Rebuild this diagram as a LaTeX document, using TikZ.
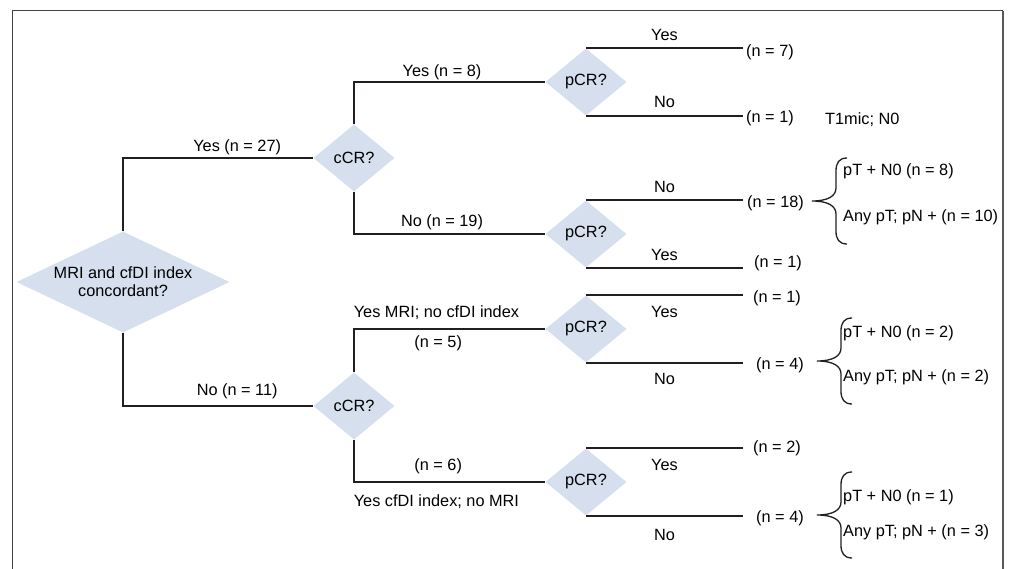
\documentclass[tikz,border=0pt]{standalone}
\usepackage{fontspec}
\setmainfont{Liberation Sans}
\usepackage{tikz}
\usetikzlibrary{shapes.geometric}
\definecolor{boxblue}{RGB}{213,223,237}
\definecolor{inkgray}{RGB}{35,31,32}

\begin{document}
\begin{tikzpicture}[x=1pt,y=-1pt,
  every node/.style={font=\fontsize{16.3}{18}\selectfont, text=black},
  question/.style={diamond, fill=boxblue, inner sep=0pt, minimum width=81pt, minimum height=67pt},
  lbl/.style={inner sep=0pt, text height=11.5pt, text depth=3.4pt},
  outcome/.style={lbl, anchor=west},
  branch/.style={line width=1.7pt, draw=inkgray}]
\useasboundingbox (0,0) rectangle (1013,569);
% Rahmen
\draw[line width=1pt, draw=inkgray!85] (12,569) -- (12,11) -- (1003,11);
\draw[line width=1.6pt, draw=inkgray!75] (1003,11) -- (1003,569);
% Fragen
\node[question, minimum width=213pt, minimum height=101pt, aspect=2.1, align=center] (root) at (123,282) {MRI and cfDI index\\concordant?};
\node[question] (ccrA) at (354,158) {cCR?};
\node[question] (ccrB) at (354,406) {cCR?};
\node[question] (pcrA) at (586,82) {pCR?};
\node[question] (pcrB) at (586,234) {pCR?};
\node[question] (pcrC) at (586,329) {pCR?};
\node[question] (pcrD) at (586,482) {pCR?};
\coordinate (endx) at (743,0);
% Ergebnisse
\node[outcome] (oA1) at (746,52) {(n = 7)};
\node[outcome] (oA2) at (746,118) {(n = 1)};
\node[outcome] (tmic) at (825,120) {T1mic; N0};
\node[outcome] (oB1) at (747,203) {(n = 18)};
\node[outcome] (oB2) at (754,263) {(n = 1)};
\node[outcome] (oC1) at (753,298) {(n = 1)};
\node[outcome] (oC2) at (756,365) {(n = 4)};
\node[outcome] (oD1) at (753,448) {(n = 2)};
\node[outcome] (oD2) at (756,518) {(n = 4)};
\node[outcome] (bB1) at (843,171) {pT + N0 (n = 8)};
\node[outcome] (bB2) at (843,217) {Any pT; pN + (n = 10)};
\node[outcome] (bC1) at (843,333) {pT + N0 (n = 2)};
\node[outcome] (bC2) at (843,377) {Any pT; pN + (n = 2)};
\node[outcome] (bD1) at (843,497) {pT + N0 (n = 1)};
\node[outcome] (bD2) at (843,532) {Any pT; pN + (n = 3)};
% Verbindungen
\draw[branch] (root.north) |- (ccrA.west) node[pos=0.8,above=2.5pt,lbl] {Yes (n = 27)};
\draw[branch] (root.south) |- (ccrB.west) node[pos=0.8,above=6.5pt,lbl] {No (n = 11)};
\draw[branch] (ccrA.north) |- (pcrA.west) node[pos=0.73,above=1.5pt,lbl] {Yes (n = 8)};
\draw[branch] (ccrA.south) |- (pcrB.west) node[pos=0.73,above=3.5pt,lbl] {No (n = 19)};
\draw[branch] (ccrB.north) |- (pcrC.west)
  node[pos=0.5,lbl,anchor=south west,yshift=7pt,xshift=-1pt] {Yes MRI; no cfDI index}
  node[pos=0.72,below=6.5pt,lbl] {(n = 5)};
\draw[branch] (ccrB.south) |- (pcrD.west)
  node[pos=0.5,lbl,anchor=north west,yshift=-12pt,xshift=-1pt] {Yes cfDI index; no MRI}
  node[pos=0.72,above=7.5pt,lbl] {(n = 6)};
% Zweige pCR
\draw[branch] (pcrA.north) -- (pcrA.north -| endx) node[midway,above=4pt,lbl] {Yes};
\draw[branch] (pcrA.south) -- (pcrA.south -| endx) node[midway,above=4pt,lbl] {No};
\draw[branch] (pcrB.north) -- (pcrB.north -| endx) node[midway,above=4pt,lbl] {No};
\draw[branch] (pcrB.south) -- (pcrB.south -| endx) node[midway,above=3pt,lbl] {Yes};
\draw[branch] (pcrC.north) -- (pcrC.north -| endx) node[midway,below=10pt,lbl] {Yes};
\draw[branch] (pcrC.south) -- (pcrC.south -| endx) node[midway,below=9pt,lbl] {No};
\draw[branch] (pcrD.north) -- (pcrD.north -| endx) node[midway,below=10pt,lbl] {Yes};
\draw[branch] (pcrD.south) -- (pcrD.south -| endx) node[midway,below=12pt,lbl] {No};
% Klammern
\foreach \tx/\ty in {812/201, 817/361, 817/515}
  \draw[line width=1.3pt, draw=inkgray] (\tx+35,\ty-43) .. controls (\tx+27,\ty-43) and (\tx+24,\ty-38) .. (\tx+24,\ty-30)
    -- (\tx+24,\ty-13) .. controls (\tx+24,\ty-5) and (\tx+16,\ty) .. (\tx,\ty)
    .. controls (\tx+16,\ty) and (\tx+24,\ty+5) .. (\tx+24,\ty+13)
    -- (\tx+24,\ty+30) .. controls (\tx+24,\ty+38) and (\tx+27,\ty+43) .. (\tx+35,\ty+43);
\end{tikzpicture}
\end{document}
